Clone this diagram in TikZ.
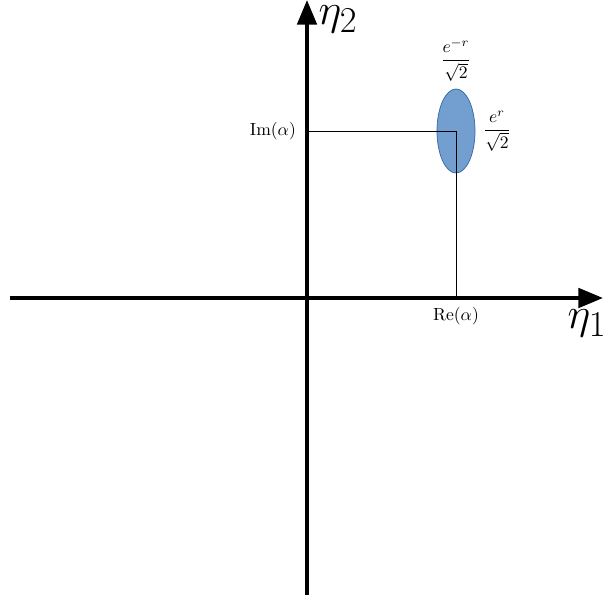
\documentclass[tikz,border=0pt]{standalone}
\usepackage{amsmath,amssymb}
\usepackage{xcolor}
\usepackage{tikz}
\usetikzlibrary{arrows.meta, shapes, positioning, calc}
\definecolor{blob}{RGB}{114,159,207}
\definecolor{blobline}{RGB}{52,101,164}
\tikzset{
  axis/.style={line width=2.2pt, -{Triangle[length=14pt, width=11pt]}},
  proj/.style={line width=0.5pt},
  lab/.style={font=\normalsize, inner sep=1pt},
  big/.style={font=\Huge, inner sep=0pt},
  sq/.style={ellipse, draw=blobline, fill=blob, line width=0.4pt,
             minimum width=0.76cm, minimum height=1.68cm, inner sep=0pt}
}
\begin{document}
\begin{tikzpicture}
        \useasboundingbox (-6.14,-6.08) rectangle (5.92,5.96);
        \coordinate (o) at (0,0);
        \coordinate (xl) at (-5.94,0);
        \coordinate (xr) at (5.92,0);
        \coordinate (yb) at (0,-5.94);
        \coordinate (yt) at (0,5.96);
        \coordinate (al) at (2.98,3.34);
        \coordinate (alx) at (2.98,0);
        \coordinate (aly) at (0,3.34);
        % squeezed state
        \node[sq] (st) at (al) {};
        \draw[proj] (aly) -- (al) -- (alx);
        \draw[axis] (xl) -- (xr);
        \draw[axis] (yb) -- (yt);
        \node[lab, anchor=east] (im) at (-0.18,3.34) {$\mathrm{Im}(\alpha)$};
        \node[lab] (re) at (2.98,-0.36) {$\mathrm{Re}(\alpha)$};
        \node[big] (e1) at (5.6,-0.5) {$\eta_1$};
        \node[big] (e2) at (0.62,5.58) {$\eta_2$};
        \node[lab] (dn) at (2.98,4.76) {$\dfrac{e^{-r}}{\sqrt{2}}$};
        \node[lab] (up) at (3.8,3.34) {$\dfrac{e^{r}}{\sqrt{2}}$};
      \end{tikzpicture}
\end{document}
